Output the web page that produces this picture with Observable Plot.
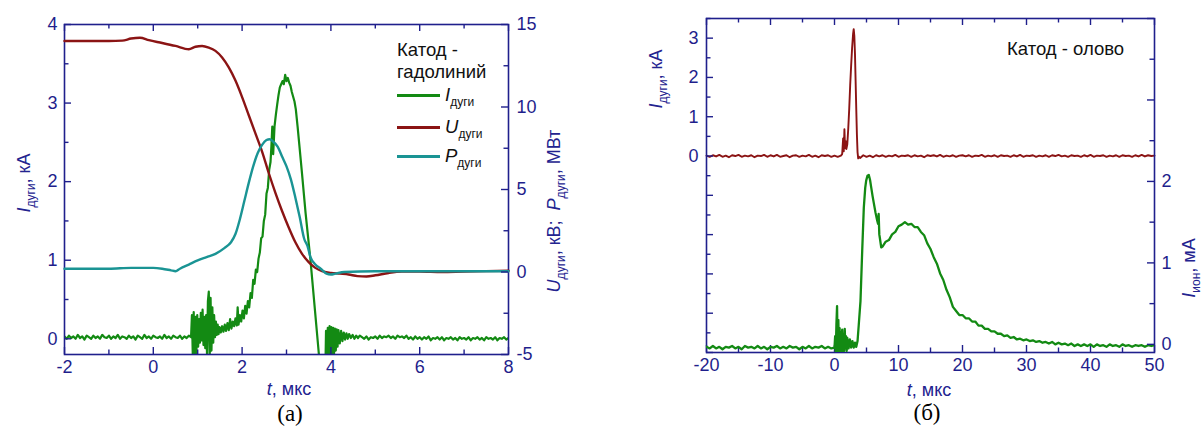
<!DOCTYPE html>
<html>
<head>
<meta charset="utf-8">
<script src="https://cdn.jsdelivr.net/npm/d3@7"></script>
<script src="https://cdn.jsdelivr.net/npm/@observablehq/plot@0.6"></script>
<style>
  body { margin: 0; background: #fff; }
  #root { position: relative; width: 1203px; height: 427px; overflow: hidden; font-family: "Liberation Sans", Arial, sans-serif; }
  .lbl { position: absolute; white-space: nowrap; color: #23238f; font-size: 18px; line-height: 22px; }
  .rot { transform: translate(-50%, -50%) rotate(-90deg); }
  .ctr { transform: translate(-50%, -50%); }
  .blk { color: #111; font-size: 18.5px; }
  .sub { font-size: 12px; position: relative; top: 5px; }
  .serif { font-family: "Liberation Serif", "Times New Roman", serif; color: #000; font-size: 23px; }
  .leg { position: absolute; height: 3px; width: 43px; }
</style>
</head>
<body>
<div id="root">
  <!-- panel (а) texts -->
  <div class="lbl rot" style="left:25px;top:183px"><i>I</i><span class="sub">дуги</span>, кА</div>
  <div class="lbl rot" style="left:555px;top:211px"><i>U</i><span class="sub">дуги</span>, кВ;&nbsp; <i>P</i><span class="sub">дуги</span>, МВт</div>
  <div class="lbl ctr" style="left:289px;top:389px"><i>t</i>, мкс</div>
  <div class="lbl ctr serif" style="left:290px;top:414px">(а)</div>
  <div class="lbl blk" style="left:397px;top:39px">Катод -</div>
  <div class="lbl blk" style="left:397px;top:61px">гадолиний</div>
  <div class="leg" style="left:397px;top:94px;background:#138a13"></div>
  <div class="leg" style="left:397px;top:126px;background:#8b1414"></div>
  <div class="leg" style="left:397px;top:155px;background:#1a9494"></div>
  <div class="lbl blk" style="left:445px;top:84px"><i>I</i><span class="sub">дуги</span></div>
  <div class="lbl blk" style="left:445px;top:116px"><i>U</i><span class="sub">дуги</span></div>
  <div class="lbl blk" style="left:445px;top:145px"><i>P</i><span class="sub">дуги</span></div>
  <!-- panel (б) texts -->
  <div class="lbl rot" style="left:657px;top:79px"><i>I</i><span class="sub">дуги</span>, кА</div>
  <div class="lbl rot" style="left:1190px;top:268px"><i>I</i><span class="sub">ион</span>, мА</div>
  <div class="lbl ctr" style="left:929px;top:390px"><i>t</i>, мкс</div>
  <div class="lbl ctr serif" style="left:927px;top:413px">(б)</div>
  <div class="lbl blk" style="left:1007px;top:38px">Катод - олово</div>
</div>
<script>
// ---------------- DATA ----------------
// Panel (а): arc current, kA  [t (мкс), I]
const arcCurrentA = [
  [-2.00,0.03],[-1.95,0.00],[-1.90,0.04],[-1.85,0.01],[-1.80,0.03],[-1.75,0.00],[-1.70,0.05],[-1.65,0.01],
  [-1.60,0.03],[-1.55,-0.01],[-1.50,0.04],[-1.45,0.02],[-1.40,0.00],[-1.35,0.04],[-1.30,0.01],[-1.25,0.03],
  [-1.20,0.00],[-1.15,0.05],[-1.10,0.02],[-1.05,0.01],[-1.00,0.04],[-0.95,0.00],[-0.90,0.03],[-0.85,0.01],
  [-0.80,0.05],[-0.75,0.00],[-0.70,0.03],[-0.65,0.02],[-0.60,0.00],[-0.55,0.04],[-0.50,0.01],[-0.45,0.03],
  [-0.40,-0.01],[-0.35,0.04],[-0.30,0.02],[-0.25,0.00],[-0.20,0.05],[-0.15,0.01],[-0.10,0.03],[-0.05,0.00],
  [0.00,0.04],[0.05,0.02],[0.10,0.01],[0.15,0.03],[0.20,0.00],[0.25,0.05],[0.30,0.01],[0.35,0.03],
  [0.40,0.00],[0.45,0.04],[0.50,0.02],[0.55,0.01],[0.60,0.04],[0.65,0.00],[0.70,0.03],[0.75,0.01],
  [0.80,0.04],[0.85,0.02],
  [0.87,0.30],[0.89,-0.22],[0.91,0.34],[0.93,-0.25],[0.95,0.28],[0.97,-0.18],[0.99,0.30],[1.01,-0.10],
  [1.03,0.25],[1.05,-0.05],[1.07,0.33],[1.09,-0.02],[1.11,0.37],[1.13,-0.08],[1.15,0.28],[1.17,-0.12],
  [1.19,0.30],[1.21,-0.20],[1.23,0.48],[1.25,0.60],[1.27,-0.25],[1.29,0.52],[1.31,-0.15],[1.33,0.40],
  [1.35,-0.05],[1.37,0.30],[1.39,0.02],[1.41,0.22],[1.43,0.05],[1.45,0.18],[1.47,0.06],[1.49,0.15],
  [1.52,0.08],[1.55,0.16],[1.58,0.09],[1.61,0.18],[1.64,0.10],[1.67,0.20],[1.70,0.11],[1.73,0.25],
  [1.76,0.13],[1.79,0.22],[1.82,0.16],[1.85,0.26],[1.88,0.17],[1.90,0.40],[1.92,0.18],[1.95,0.30],
  [1.98,0.22],[2.01,0.36],[2.04,0.26],[2.07,0.42],[2.10,0.32],[2.13,0.48],[2.16,0.40],[2.19,0.58],
  [2.22,0.52],[2.25,0.75],[2.28,0.70],[2.31,0.88],[2.34,0.85],
  [2.37,1.02],[2.40,1.10],[2.43,1.28],[2.46,1.30],[2.49,1.50],[2.52,1.58],[2.55,1.85],[2.58,1.92],
  [2.61,2.15],[2.64,2.25],[2.66,2.45],[2.68,2.70],[2.70,2.35],[2.73,2.70],[2.76,2.85],[2.79,2.98],
  [2.82,3.10],[2.85,3.20],[2.88,3.24],[2.91,3.28],[2.94,3.24],[2.97,3.36],[3.00,3.28],[3.03,3.32],
  [3.06,3.26],[3.09,3.22],[3.12,3.14],[3.15,3.08],[3.18,3.02],[3.21,2.92],[3.25,2.70],[3.30,2.40],
  [3.35,2.10],[3.43,1.60],[3.54,1.00],[3.73,-0.20],[3.78,-0.60],
  [3.87,-0.60],[3.89,0.10],[3.91,-0.30],[3.93,0.14],[3.95,-0.30],[3.97,0.16],[3.99,-0.28],[4.01,0.15],
  [4.03,-0.25],[4.05,0.14],[4.07,-0.20],[4.09,0.13],[4.11,-0.15],[4.13,0.12],[4.15,-0.10],[4.17,0.11],
  [4.20,-0.06],[4.23,0.10],[4.26,-0.03],[4.29,0.08],[4.32,-0.01],[4.35,0.07],[4.38,0.00],[4.41,0.06],
  [4.45,0.01],[4.49,0.05],[4.53,0.00],[4.57,0.04],[4.61,0.01],[4.65,0.04],
  [4.70,0.02],[4.75,0.00],[4.80,0.03],[4.85,-0.01],[4.90,0.02],[4.95,0.01],[5.00,0.03],[5.05,0.00],
  [5.10,0.04],[5.15,0.01],[5.20,0.03],[5.25,0.02],[5.30,0.04],[5.35,0.01],[5.40,0.03],[5.45,0.00],
  [5.50,0.04],[5.55,0.02],[5.60,0.03],[5.65,0.01],[5.70,0.04],[5.75,0.00],[5.80,0.02],[5.85,-0.01],
  [5.90,0.03],[5.95,0.00],[6.00,0.02],[6.05,-0.01],[6.10,0.02],[6.15,0.00],[6.20,0.03],[6.25,-0.02],
  [6.30,0.01],[6.35,0.00],[6.40,0.02],[6.45,-0.01],[6.50,0.02],[6.55,-0.02],[6.60,0.01],[6.65,0.00],
  [6.70,0.02],[6.75,-0.01],[6.80,0.01],[6.85,-0.02],[6.90,0.02],[6.95,0.00],[7.00,0.01],[7.05,-0.01],
  [7.10,0.02],[7.15,-0.02],[7.20,0.01],[7.25,0.00],[7.30,0.02],[7.35,-0.01],[7.40,0.01],[7.45,-0.02],
  [7.50,0.02],[7.55,0.00],[7.60,0.01],[7.65,-0.01],[7.70,0.02],[7.75,-0.02],[7.80,0.01],[7.85,0.00],
  [7.90,0.02],[7.95,-0.01],[8.00,0.01]
];
// Panel (а): arc voltage, kV
const arcVoltageA = [
  [-2.0,14.0],[-1.5,14.0],[-1.0,14.0],[-0.7,14.02],[-0.5,14.15],[-0.3,14.2],[-0.1,14.05],[0.2,13.88],
  [0.5,13.7],[0.8,13.5],[0.95,13.65],[1.1,13.7],[1.25,13.6],[1.4,13.4],[1.55,13.0],[1.7,12.4],
  [1.85,11.6],[2.0,10.6],[2.15,9.5],[2.3,8.4],[2.45,7.3],[2.6,6.0],[2.75,4.8],[2.9,3.7],
  [3.05,2.7],[3.2,1.8],[3.35,1.1],[3.5,0.6],[3.65,0.25],[3.8,0.05],[4.0,-0.05],[4.2,-0.1],
  [4.4,-0.15],[4.6,-0.25],[4.8,-0.27],[5.0,-0.2],[5.3,-0.06],[5.6,0.02],[6.0,0.03],[6.5,0.0],
  [7.0,0.03],[7.5,0.05],[8.0,0.08]
];
// Panel (а): arc power, MW
const arcPowerA = [
  [-2.0,0.2],[-1.5,0.2],[-1.0,0.2],[-0.5,0.25],[0.0,0.25],[0.2,0.2],[0.4,0.1],[0.5,0.05],
  [0.6,0.2],[0.8,0.45],[1.0,0.7],[1.2,0.9],[1.4,1.1],[1.6,1.45],[1.75,1.8],[1.85,2.3],
  [1.95,3.2],[2.05,4.3],[2.15,5.4],[2.25,6.4],[2.35,7.2],[2.45,7.7],[2.55,8.0],[2.62,8.05],
  [2.7,7.9],[2.8,7.6],[2.9,7.0],[3.0,6.4],[3.1,5.6],[3.2,4.5],[3.3,3.3],[3.4,2.0],
  [3.47,1.6],[3.54,0.9],[3.65,0.45],[3.77,0.2],[3.9,-0.1],[4.0,-0.15],[4.1,-0.1],[4.3,0.0],
  [5.0,0.05],[6.0,0.05],[7.0,0.05],[8.0,0.05]
];
// Panel (б): arc current, kA
const arcCurrentB = [
  [-20,0.01],[-19.5,-0.02],[-19,0.02],[-18.5,-0.01],[-18,0.03],[-17.5,-0.02],[-17,0.01],[-16.5,-0.03],
  [-16,0.02],[-15.5,0.00],[-15,0.03],[-14.5,-0.02],[-14,0.01],[-13.5,-0.01],[-13,0.02],[-12.5,-0.03],
  [-12,0.01],[-11.5,0.00],[-11,0.03],[-10.5,-0.02],[-10,0.02],[-9.5,-0.01],[-9,0.03],[-8.5,-0.02],
  [-8,0.00],[-7.5,0.02],[-7,-0.03],[-6.5,0.01],[-6,0.02],[-5.5,-0.02],[-5,0.01],[-4.5,-0.01],
  [-4,0.03],[-3.5,-0.02],[-3,0.01],[-2.5,-0.03],[-2,0.02],[-1.5,0.00],[-1,0.02],[-0.5,-0.02],
  [0,0.01],[0.5,-0.02],[1.0,0.01],
  [1.2,0.05],[1.35,0.45],[1.45,0.12],[1.55,0.68],[1.65,0.2],[1.75,0.38],[1.85,0.18],[2.0,0.3],
  [2.15,0.7],[2.3,1.2],[2.45,1.8],[2.6,2.3],[2.75,2.75],[2.9,3.1],[3.0,3.23],[3.1,3.05],
  [3.2,2.6],[3.3,1.9],[3.4,1.2],[3.5,0.55],[3.6,0.1],[3.7,-0.06],[3.85,-0.02],[4.0,-0.05],
  [4.5,0.02],[5,-0.02],[5.5,0.01],[6,-0.03],[6.5,0.02],[7,-0.01],[7.5,0.02],[8,-0.02],
  [8.5,0.01],[9,-0.01],[9.5,0.03],[10,-0.02],[10.5,0.01],[11,0.00],[11.5,0.02],[12,-0.02],
  [12.5,0.02],[13,-0.01],[13.5,0.01],[14,-0.03],[14.5,0.02],[15,0.00],[15.5,0.02],[16,-0.01],
  [16.5,0.03],[17,-0.02],[17.5,0.01],[18,-0.01],[18.5,0.02],[19,-0.02],[19.5,0.01],[20,0.02],
  [20.5,-0.01],[21,0.02],[21.5,-0.02],[22,0.01],[22.5,0.00],[23,0.03],[23.5,-0.02],[24,0.01],
  [24.5,-0.01],[25,0.02],[25.5,-0.02],[26,0.02],[26.5,0.00],[27,0.01],[27.5,-0.02],[28,0.02],
  [28.5,-0.01],[29,0.03],[29.5,-0.02],[30,0.01],[30.5,0.00],[31,0.02],[31.5,-0.02],[32,0.01],
  [32.5,-0.01],[33,0.02],[33.5,-0.02],[34,0.02],[34.5,0.00],[35,0.03],[35.5,-0.01],[36,0.01],
  [36.5,-0.02],[37,0.02],[37.5,0.00],[38,0.01],[38.5,-0.02],[39,0.02],[39.5,-0.01],[40,0.03],
  [40.5,-0.02],[41,0.01],[41.5,0.00],[42,0.02],[42.5,-0.02],[43,0.01],[43.5,-0.01],[44,0.02],
  [44.5,-0.02],[45,0.02],[45.5,0.00],[46,0.01],[46.5,-0.02],[47,0.02],[47.5,-0.01],[48,0.03],
  [48.5,-0.01],[49,0.02],[49.5,0.00],[50,0.01]
];
// Panel (б): ion current, mA
const ionCurrentB = [
  [-20,-0.03],[-19.5,-0.05],[-19,-0.02],[-18.5,-0.05],[-18,-0.03],[-17.5,-0.06],[-17,-0.03],[-16.5,-0.04],
  [-16,-0.02],[-15.5,-0.05],[-15,-0.03],[-14.5,-0.06],[-14,-0.02],[-13.5,-0.04],[-13,-0.03],[-12.5,-0.05],
  [-12,-0.02],[-11.5,-0.05],[-11,-0.03],[-10.5,-0.06],[-10,-0.03],[-9.5,-0.04],[-9,-0.02],[-8.5,-0.05],
  [-8,-0.03],[-7.5,-0.05],[-7,-0.02],[-6.5,-0.04],[-6,-0.03],[-5.5,-0.06],[-5,-0.03],[-4.5,-0.05],
  [-4,-0.02],[-3.5,-0.05],[-3,-0.03],[-2.5,-0.04],[-2,-0.02],[-1.5,-0.05],[-1,-0.03],[-0.5,-0.05],
  [0.0,-0.04],[0.1,0.10],[0.2,-0.10],[0.3,0.25],[0.4,0.47],[0.5,-0.10],[0.6,0.30],[0.7,-0.08],
  [0.8,0.20],[0.9,-0.10],[1.0,0.15],[1.1,-0.08],[1.2,0.18],[1.3,-0.10],[1.4,0.12],[1.5,-0.08],
  [1.6,0.19],[1.7,-0.05],[1.8,0.10],[1.9,-0.08],[2.0,0.08],[2.2,-0.05],[2.4,0.06],[2.6,-0.04],
  [2.8,0.04],[3.0,-0.04],[3.2,0.02],[3.4,-0.03],[3.6,0.04],
  [3.8,0.25],[4.06,0.53],[4.33,1.15],[4.58,1.68],[4.8,1.92],[4.95,2.01],[5.15,2.07],[5.36,2.08],
  [5.55,2.02],[5.73,1.93],[5.95,1.82],[6.15,1.73],[6.4,1.62],[6.67,1.52],[6.8,1.48],[6.9,1.60],
  [7.0,1.35],[7.1,1.30],[7.3,1.19],
  [7.5,1.20],[8.0,1.26],[8.5,1.28],[9.0,1.35],[9.5,1.38],[10.0,1.45],[10.5,1.47],[11.0,1.50],
  [11.5,1.47],[12.0,1.48],[12.5,1.44],[13.0,1.44],[13.5,1.38],[14.0,1.34],[14.5,1.24],[15.0,1.17],
  [15.5,1.07],[16.0,0.99],[16.5,0.87],[17.0,0.79],[17.5,0.67],[18.0,0.58],[18.5,0.46],[19.0,0.41],
  [19.5,0.36],[20.0,0.36],[20.5,0.32],[21.0,0.32],[21.5,0.28],[22.0,0.28],[22.5,0.23],[23.0,0.23],
  [23.5,0.19],[24.0,0.19],[24.5,0.16],[25.0,0.16],[25.5,0.13],[26.0,0.13],[26.5,0.10],[27.0,0.11],
  [27.5,0.08],[28.0,0.09],[28.5,0.06],[29.0,0.07],[29.5,0.05],[30.0,0.06],[30.5,0.04],[31.0,0.05],
  [31.5,0.03],[32.0,0.04],[32.5,0.02],[33.0,0.03],[33.5,0.01],[34.0,0.03],[34.5,0.00],[35.0,0.02],
  [35.5,0.00],[36.0,0.01],[36.5,-0.01],[37.0,0.01],[37.5,-0.02],[38.0,0.00],[38.5,-0.02],[39.0,0.00],
  [39.5,-0.02],[40.0,0.00],[40.5,-0.03],[41.0,0.00],[41.5,-0.02],[42.0,-0.01],[42.5,-0.03],[43.0,0.00],
  [43.5,-0.02],[44.0,-0.01],[44.5,-0.03],[45.0,0.00],[45.5,-0.02],[46.0,-0.01],[46.5,-0.03],[47.0,-0.01],
  [47.5,-0.02],[48.0,-0.01],[48.5,-0.03],[49.0,-0.01],[49.5,-0.02],[50.0,-0.01]
];
// Axis ticks
const xMajorA = [-2, 0, 2, 4, 6, 8];
const xMinorA = [-1, 1, 3, 5, 7];
const yLeftMajorA = [0, 1, 2, 3, 4];
const yLeftMinorA = [0.5, 1.5, 2.5, 3.5];
const yRightMajorA = [-5, 0, 5, 10, 15];
const yRightMinorA = [-2.5, 2.5, 7.5, 12.5];
const xMajorB = [-20, -10, 0, 10, 20, 30, 40, 50];
const xMinorB = [-15, -5, 5, 15, 25, 35, 45];
const yLeftLabelsB = [0, 1, 2, 3];
const yLeftMajorB = [-5, -4, -3, -2, -1, 0, 1, 2, 3];
const yLeftMinorB = [-4.5, -3.5, -2.5, -1.5, -0.5, 0.5, 1.5, 2.5, 3.5];
const yRightLabelsB = [0, 1, 2];
const yRightMajorB = [0, 1, 2, 3, 4];
const yRightMinorB = [0.5, 1.5, 2.5, 3.5];

// ---------------- DRAW ----------------
const navy = "#1f1f8c", green = "#138a13", red = "#8b1414", teal = "#1a9494";
const root = document.getElementById("root");
const fmt = d => String(d);
const X = d => d[0], Y = d => d[1];

function place(svg, left, top) {
  svg.style.position = "absolute";
  svg.style.left = left + "px";
  svg.style.top = top + "px";
  root.appendChild(svg);
}

function ticks(xMaj, xMin, iw, ih) {
  const maj = 7, min = 4.5;
  return [
    Plot.ruleX(xMaj, {x: d => d, stroke: navy, strokeWidth: 1.4, insetTop: ih - maj}),
    Plot.ruleX(xMaj, {x: d => d, stroke: navy, strokeWidth: 1.4, insetBottom: ih - maj}),
    Plot.ruleX(xMin, {x: d => d, stroke: navy, strokeWidth: 1.4, insetTop: ih - min}),
    Plot.ruleX(xMin, {x: d => d, stroke: navy, strokeWidth: 1.4, insetBottom: ih - min})
  ];
}
function yTicks(maj, min, side, iw) {
  const key = side === "left" ? "insetRight" : "insetLeft";
  return [
    Plot.ruleY(maj, {y: d => d, stroke: navy, strokeWidth: 1.4, [key]: iw - 7}),
    Plot.ruleY(min, {y: d => d, stroke: navy, strokeWidth: 1.4, [key]: iw - 4.5})
  ];
}
const baseStyle = {fontFamily: "'Liberation Sans', Arial, sans-serif", fontSize: "18px", color: navy, background: "transparent", overflow: "visible"};

// ---- Panel (а)
{
  const W = 600, H = 400, mL = 64, mR = 92, mT = 24, mB = 46;
  const iw = W - mL - mR, ih = H - mT - mB;
  const common = {width: W, height: H, marginLeft: mL, marginRight: mR, marginTop: mT, marginBottom: mB, style: baseStyle};
  const p1 = Plot.plot({...common, x: {domain: [-2, 8]}, y: {domain: [-0.2, 4]},
    marks: [
      Plot.line(arcCurrentA, {x: X, y: Y, stroke: green, strokeWidth: 2.2, clip: true}),
      ...ticks(xMajorA, xMinorA, iw, ih),
      ...yTicks(yLeftMajorA, yLeftMinorA, "left", iw),
      Plot.axisX({ticks: xMajorA, tickSize: 0, tickPadding: 6, tickFormat: fmt, label: null}),
      Plot.axisY({ticks: yLeftMajorA, tickSize: 0, tickPadding: 7, tickFormat: fmt, label: null}),
      Plot.frame({stroke: navy, strokeWidth: 1.6})
    ]});
  const p2 = Plot.plot({...common, x: {domain: [-2, 8], axis: null}, y: {domain: [-5, 15]},
    marks: [
      Plot.line(arcVoltageA, {x: X, y: Y, stroke: red, strokeWidth: 2.4, curve: "monotone-x"}),
      Plot.line(arcPowerA, {x: X, y: Y, stroke: teal, strokeWidth: 2.4, curve: "monotone-x"}),
      ...yTicks(yRightMajorA, yRightMinorA, "right", iw),
      Plot.axisY({anchor: "right", ticks: yRightMajorA, tickSize: 0, tickPadding: 8, tickFormat: fmt, label: null})
    ]});
  place(p1, 0, 0);
  place(p2, 0, 0);
}

// ---- Panel (б)
{
  const W = 583, H = 400, mL = 86, mR = 49, mT = 18, mB = 48;
  const iw = W - mL - mR, ih = H - mT - mB;
  const common = {width: W, height: H, marginLeft: mL, marginRight: mR, marginTop: mT, marginBottom: mB, style: baseStyle};
  const p3 = Plot.plot({...common, x: {domain: [-20, 50]}, y: {domain: [-5, 3.5]},
    marks: [
      Plot.line(arcCurrentB, {x: X, y: Y, stroke: red, strokeWidth: 1.9}),
      ...ticks(xMajorB, xMinorB, iw, ih),
      ...yTicks(yLeftMajorB, yLeftMinorB, "left", iw),
      Plot.axisX({ticks: xMajorB, tickSize: 0, tickPadding: 6, tickFormat: fmt, label: null}),
      Plot.axisY({ticks: yLeftLabelsB, tickSize: 0, tickPadding: 8, tickFormat: fmt, label: null}),
      Plot.frame({stroke: navy, strokeWidth: 1.6})
    ]});
  const p4 = Plot.plot({...common, x: {domain: [-20, 50], axis: null}, y: {domain: [-0.1, 4.0]},
    marks: [
      Plot.line(ionCurrentB, {x: X, y: Y, stroke: green, strokeWidth: 2.3, clip: true}),
      ...yTicks(yRightMajorB, yRightMinorB, "right", iw),
      Plot.axisY({anchor: "right", ticks: yRightLabelsB, tickSize: 0, tickPadding: 7, tickFormat: fmt, label: null})
    ]});
  place(p3, 620, 0);
  place(p4, 620, 0);
}
</script>
</body>
</html>
